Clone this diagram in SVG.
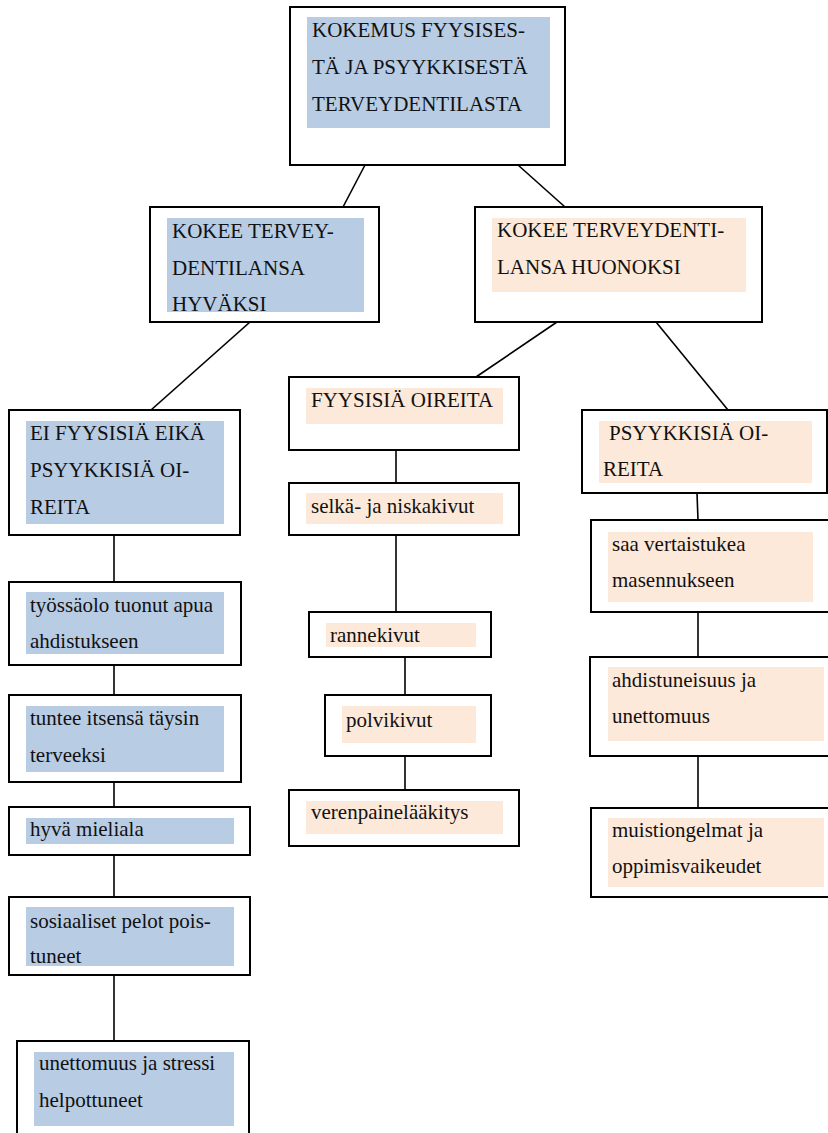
<svg xmlns="http://www.w3.org/2000/svg" width="828" height="1133" viewBox="0 0 828 1133">
  <style>
    .box { fill: #ffffff; stroke: #000000; stroke-width: 2; }
    .blue { fill: #b8cce4; }
    .peach { fill: #fde9d9; }
    .conn line { stroke: #000000; stroke-width: 1.6; }
  </style>
  <rect width="828" height="1133" fill="#ffffff"/>

  <!-- connectors -->
  <g id="connectors" class="conn">
    <line x1="365" y1="165" x2="343" y2="207"/>
    <line x1="518" y1="165" x2="565" y2="207"/>
    <line x1="250" y1="322" x2="151" y2="410"/>
    <line x1="557" y1="322" x2="476" y2="377"/>
    <line x1="656" y1="322" x2="728" y2="410"/>
    <line x1="114" y1="535" x2="114" y2="582"/>
    <line x1="114" y1="665" x2="114" y2="695"/>
    <line x1="114" y1="782" x2="114" y2="807"/>
    <line x1="114" y1="855" x2="114" y2="897"/>
    <line x1="114" y1="975" x2="114" y2="1041"/>
    <line x1="396" y1="450" x2="396" y2="483"/>
    <line x1="396" y1="535" x2="396" y2="612"/>
    <line x1="405" y1="657" x2="405" y2="695"/>
    <line x1="405" y1="756" x2="405" y2="790"/>
    <line x1="697" y1="493" x2="698" y2="520"/>
    <line x1="698" y1="612" x2="698" y2="657"/>
    <line x1="698" y1="756" x2="698" y2="808"/>
  </g>

  <g id="nodes" font-family="Liberation Serif, Times New Roman, DejaVu Serif, serif" font-size="21" fill="#111111">
  <!-- root -->
  <g id="n-root">
    <rect class="box" x="290" y="7" width="275" height="158"/>
    <rect class="blue" x="307" y="17" width="243" height="111"/>
    <text x="312" y="37">KOKEMUS FYYSISES-</text>
    <text x="312" y="74">TÄ JA PSYYKKISESTÄ</text>
    <text x="312" y="111">TERVEYDENTILASTA</text>
  </g>

  <!-- level 2 -->
  <g id="n-good">
    <rect class="box" x="150" y="207" width="229" height="115"/>
    <rect class="blue" x="167" y="218" width="197" height="94"/>
    <text x="172" y="238">KOKEE TERVEY-</text>
    <text x="172" y="275">DENTILANSA</text>
    <text x="172" y="311">HYVÄKSI</text>
  </g>
  <g id="n-bad">
    <rect class="box" x="475" y="207" width="287" height="115"/>
    <rect class="peach" x="492" y="218" width="254" height="74"/>
    <text x="497" y="237">KOKEE TERVEYDENTI-</text>
    <text x="497" y="274">LANSA HUONOKSI</text>
  </g>

  <!-- left column -->
  <g id="n-none">
    <rect class="box" x="9" y="410" width="231" height="125"/>
    <rect class="blue" x="26" y="421" width="198" height="103"/>
    <text x="30" y="440">EI FYYSISIÄ EIKÄ</text>
    <text x="30" y="477">PSYYKKISIÄ OI-</text>
    <text x="30" y="514">REITA</text>
  </g>
  <g id="n-work">
    <rect class="box" x="9" y="582" width="232" height="83"/>
    <rect class="blue" x="26" y="592" width="198" height="62"/>
    <text x="30" y="612">työssäolo tuonut apua</text>
    <text x="30" y="648">ahdistukseen</text>
  </g>
  <g id="n-healthy">
    <rect class="box" x="9" y="695" width="232" height="87"/>
    <rect class="blue" x="26" y="706" width="198" height="66"/>
    <text x="30" y="725">tuntee itsensä täysin</text>
    <text x="30" y="762">terveeksi</text>
  </g>
  <g id="n-mood">
    <rect class="box" x="9" y="807" width="241" height="48"/>
    <rect class="blue" x="26" y="818" width="208" height="26"/>
    <text x="30" y="836">hyvä mieliala</text>
  </g>
  <g id="n-social">
    <rect class="box" x="9" y="897" width="241" height="78"/>
    <rect class="blue" x="26" y="907" width="208" height="59"/>
    <text x="30" y="928">sosiaaliset pelot pois-</text>
    <text x="30" y="963">tuneet</text>
  </g>
  <g id="n-sleep">
    <rect class="box" x="17" y="1041" width="232" height="96"/>
    <rect class="blue" x="34" y="1052" width="200" height="74"/>
    <text x="39" y="1070">unettomuus ja stressi</text>
    <text x="39" y="1107">helpottuneet</text>
  </g>

  <!-- middle column -->
  <g id="n-physical">
    <rect class="box" x="289" y="377" width="230" height="73"/>
    <rect class="peach" x="306" y="388" width="197" height="36"/>
    <text x="311" y="407">FYYSISIÄ OIREITA</text>
  </g>
  <g id="n-back">
    <rect class="box" x="289" y="483" width="230" height="52"/>
    <rect class="peach" x="306" y="493" width="197" height="31"/>
    <text x="311" y="513">selkä- ja niskakivut</text>
  </g>
  <g id="n-wrist">
    <rect class="box" x="309" y="612" width="182" height="45"/>
    <rect class="peach" x="326" y="623" width="150" height="24"/>
    <text x="330" y="642">rannekivut</text>
  </g>
  <g id="n-knee">
    <rect class="box" x="325" y="695" width="166" height="61"/>
    <rect class="peach" x="342" y="706" width="134" height="37"/>
    <text x="346" y="727">polvikivut</text>
  </g>
  <g id="n-bp">
    <rect class="box" x="289" y="790" width="230" height="56"/>
    <rect class="peach" x="306" y="801" width="197" height="33"/>
    <text x="311" y="819">verenpainelääkitys</text>
  </g>

  <!-- right column -->
  <g id="n-mental">
    <rect class="box" x="582" y="410" width="245" height="83"/>
    <rect class="peach" x="599" y="421" width="213" height="62"/>
    <text x="609" y="440">PSYYKKISIÄ OI-</text>
    <text x="603" y="476">REITA</text>
  </g>
  <g id="n-peer">
    <rect class="box" x="591" y="520" width="238" height="92"/>
    <rect class="peach" x="608" y="532" width="205" height="70"/>
    <text x="612" y="551">saa vertaistukea</text>
    <text x="612" y="587">masennukseen</text>
  </g>
  <g id="n-anxiety">
    <rect class="box" x="590" y="657" width="240" height="99"/>
    <rect class="peach" x="608" y="667" width="216" height="74"/>
    <text x="612" y="687">ahdistuneisuus ja</text>
    <text x="612" y="723">unettomuus</text>
  </g>
  <g id="n-memory">
    <rect class="box" x="591" y="808" width="239" height="89"/>
    <rect class="peach" x="608" y="818" width="216" height="69"/>
    <text x="612" y="837">muistiongelmat ja</text>
    <text x="612" y="873">oppimisvaikeudet</text>
  </g>
  </g>
</svg>
